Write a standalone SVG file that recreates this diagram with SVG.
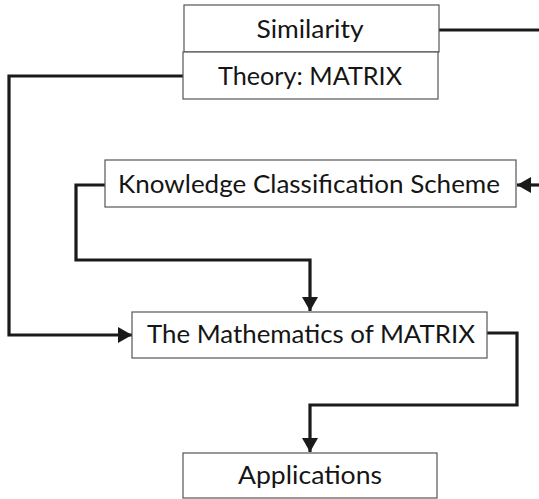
<svg xmlns="http://www.w3.org/2000/svg" width="539" height="499" viewBox="0 0 539 499">
<style>
.box{fill:#fff;stroke:#555;stroke-width:1.2}
.lbl{font-family:Lato,"Open Sans","Liberation Sans",sans-serif;font-size:25px;fill:#151515;text-anchor:middle}
.con{fill:none;stroke:#1a1a1a;stroke-width:3.2}
</style>
<defs>
<marker id="ah" markerUnits="userSpaceOnUse" markerWidth="16" markerHeight="16" refX="14" refY="8" orient="auto">
<path d="M0,0 L14,8 L0,16 Z" fill="#1a1a1a"/>
</marker>
</defs>
<g id="connectors">
<path class="con" d="M439,30 H545"/>
<path class="con" d="M545,185 H517" marker-end="url(#ah)"/>
<path class="con" d="M183,76 H9 V335 H132" marker-end="url(#ah)"/>
<path class="con" d="M105,185 H76 V260 H310 V311" marker-end="url(#ah)"/>
<path class="con" d="M487,333 H517 V405 H310 V452" marker-end="url(#ah)"/>
<path class="con" d="M425,44 V62" stroke-width="2.5"/>
<path d="M425,29 L432,44 L418,44 Z" fill="#1a1a1a"/>
<path d="M425,76 L432,61 L418,61 Z" fill="#1a1a1a"/>
</g>
<g id="similarity">
<rect class="box" x="184" y="5" width="255" height="47"/>
<text class="lbl" x="310" y="38" textLength="107" lengthAdjust="spacingAndGlyphs">Similarity</text>
</g>
<g id="theory">
<rect class="box" x="183" y="52" width="255" height="47"/>
<text class="lbl" x="310" y="85" textLength="184" lengthAdjust="spacingAndGlyphs">Theory: MATRIX</text>
</g>
<g id="knowledge">
<rect class="box" x="105" y="160" width="411" height="47"/>
<text class="lbl" x="309" y="193" textLength="382" lengthAdjust="spacingAndGlyphs">Knowledge Classification Scheme</text>
</g>
<g id="mathematics">
<rect class="box" x="132" y="312" width="355" height="46"/>
<text class="lbl" x="311" y="343" textLength="328" lengthAdjust="spacingAndGlyphs">The Mathematics of MATRIX</text>
</g>
<g id="applications">
<rect class="box" x="183" y="453" width="254" height="45"/>
<text class="lbl" x="310" y="484" textLength="144" lengthAdjust="spacingAndGlyphs">Applications</text>
</g>
</svg>
